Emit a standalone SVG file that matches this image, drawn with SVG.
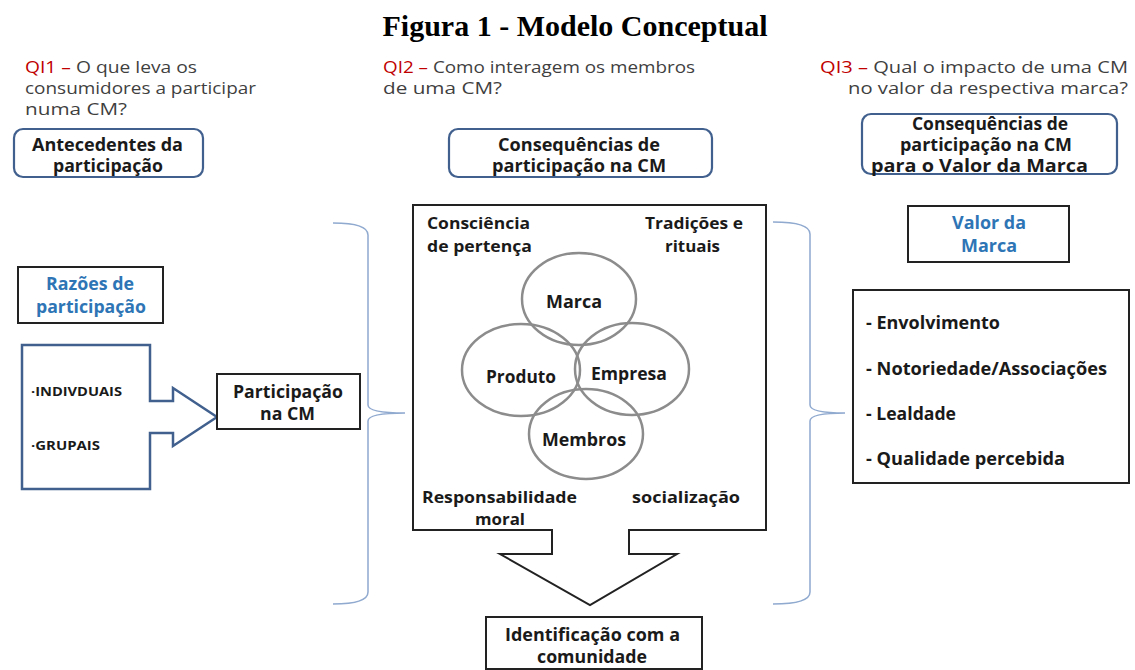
<svg xmlns="http://www.w3.org/2000/svg" width="1135" height="670" viewBox="0 0 1135 670">
<style>
text{lengthAdjust:spacingAndGlyphs;}
.q{font-family:"Open Sans","Liberation Sans",sans-serif;font-size:17px;fill:#3f3f3f;}
.qr{fill:#c00000;}
.b{font-family:"Open Sans","Liberation Sans",sans-serif;font-weight:bold;fill:#1a1a1a;}
.c{text-anchor:middle;}
.blue{fill:#2e75b6;}
.rbox{fill:#fff;stroke:#41608e;stroke-width:2.2;}
.box{fill:#fff;stroke:#222;stroke-width:2;}
.circ{fill:none;stroke:#8c8c8c;stroke-width:2.5;}
.brace{fill:none;stroke:#8fa9cf;stroke-width:1.5;}
</style>
<rect width="1135" height="670" fill="#fff"/>
<text x="575" y="36" text-anchor="middle" font-family="'Liberation Serif',serif" font-weight="bold" font-size="30" fill="#000" textLength="385" lengthAdjust="spacingAndGlyphs">Figura 1 - Modelo Conceptual</text>

<g id="qi1">
<text class="q" x="25" y="73" textLength="172" lengthAdjust="spacingAndGlyphs"><tspan class="qr">QI1 – </tspan>O que leva os</text>
<text class="q" x="25" y="94" textLength="231" lengthAdjust="spacingAndGlyphs">consumidores a participar</text>
<text class="q" x="25" y="115" textLength="102" lengthAdjust="spacingAndGlyphs">numa CM?</text>
</g>
<g id="qi2">
<text class="q" x="383" y="73" textLength="312" lengthAdjust="spacingAndGlyphs"><tspan class="qr">QI2 – </tspan>Como interagem os membros</text>
<text class="q" x="383" y="94" textLength="119" lengthAdjust="spacingAndGlyphs">de uma CM?</text>
</g>
<g id="qi3">
<text class="q" x="820" y="73" textLength="308" lengthAdjust="spacingAndGlyphs"><tspan class="qr">QI3 – </tspan>Qual o impacto de uma CM</text>
<text class="q" x="848" y="94" textLength="280" lengthAdjust="spacingAndGlyphs">no valor da respectiva marca?</text>
</g>

<g id="antecedentes">
<rect class="rbox" x="14" y="129" width="189" height="48" rx="9"/>
<text class="b" x="32" y="151" font-size="17" textLength="151" lengthAdjust="spacingAndGlyphs">Antecedentes da</text>
<text class="b" x="53" y="172" font-size="17" textLength="110" lengthAdjust="spacingAndGlyphs">participação</text>
</g>
<g id="consequencias">
<rect class="rbox" x="449" y="129" width="263" height="48" rx="9"/>
<text class="b" x="498" y="151" font-size="17" textLength="162" lengthAdjust="spacingAndGlyphs">Consequências de</text>
<text class="b" x="492" y="172" font-size="17" textLength="174" lengthAdjust="spacingAndGlyphs">participação na CM</text>
</g>
<g id="consequencias-valor">
<rect class="rbox" x="862" y="114" width="255" height="60" rx="9"/>
<text class="b" x="912" y="130" font-size="17" textLength="156" lengthAdjust="spacingAndGlyphs">Consequências de</text>
<text class="b" x="900" y="151" font-size="17" textLength="172" lengthAdjust="spacingAndGlyphs">participação na CM</text>
<text class="b" x="871" y="172" font-size="17" textLength="217" lengthAdjust="spacingAndGlyphs">para o Valor da Marca</text>
</g>

<g id="razoes">
<rect class="box" x="18" y="267" width="145" height="56"/>
<text class="b blue" x="46" y="290" font-size="17" textLength="88" lengthAdjust="spacingAndGlyphs">Razões de</text>
<text class="b blue" x="36" y="313" font-size="17" textLength="110" lengthAdjust="spacingAndGlyphs">participação</text>
</g>
<g id="razoes-arrow">
<path d="M22,345 L150,345 L150,401 L173,401 L173,388 L217,417 L173,446 L173,433 L150,433 L150,489 L22,489 Z" fill="#fff" stroke="#41608e" stroke-width="2.5" stroke-linejoin="miter"/>
<text class="b" x="31" y="396" font-size="12" textLength="91" lengthAdjust="spacingAndGlyphs">·INDIVDUAIS</text>
<text class="b" x="31" y="450" font-size="12" textLength="69" lengthAdjust="spacingAndGlyphs">·GRUPAIS</text>
</g>
<g id="participacao">
<rect class="box" x="217" y="374" width="143" height="55"/>
<text class="b" x="233" y="398" font-size="17" textLength="110" lengthAdjust="spacingAndGlyphs">Participação</text>
<text class="b" x="260" y="420" font-size="17" textLength="55" lengthAdjust="spacingAndGlyphs">na CM</text>
</g>

<g id="connectors">
<path class="brace" d="M333,223 Q368,223 368,235 L368,405 Q368,413 405,413 Q368,413 368,421 L368,592 Q368,604 333,604"/>
<path class="brace" d="M773,222 Q810,222 810,234 L810,405 Q810,413 845,413 Q810,413 810,421 L810,592 Q810,604 773,604"/>
</g>

<g id="centro">
<path d="M552,530 L413,530 L413,205 L766,205 L766,530 L629,530 L629,554 L677,554 L590,605 L500,554 L552,554 Z" fill="#fff" stroke="#222" stroke-width="2"/>
<text class="b" x="427" y="229" font-size="16" textLength="103" lengthAdjust="spacingAndGlyphs">Consciência</text>
<text class="b" x="427" y="252" font-size="16" textLength="105" lengthAdjust="spacingAndGlyphs">de pertença</text>
<text class="b" x="645" y="229" font-size="16" textLength="98" lengthAdjust="spacingAndGlyphs">Tradições e</text>
<text class="b" x="665" y="252" font-size="16" textLength="55" lengthAdjust="spacingAndGlyphs">rituais</text>
<text class="b" x="422" y="503" font-size="16" textLength="155" lengthAdjust="spacingAndGlyphs">Responsabilidade</text>
<text class="b" x="475" y="525" font-size="16" textLength="50" lengthAdjust="spacingAndGlyphs">moral</text>
<text class="b" x="632" y="503" font-size="16" textLength="108" lengthAdjust="spacingAndGlyphs">socialização</text>
</g>
<g id="circulos">
<ellipse class="circ" cx="579" cy="299" rx="57" ry="46"/>
<ellipse class="circ" cx="521" cy="370" rx="59" ry="46"/>
<ellipse class="circ" cx="632" cy="369" rx="57" ry="46"/>
<ellipse class="circ" cx="586" cy="434" rx="57" ry="45"/>
<text class="b" x="546" y="308" font-size="17" fill="#333" textLength="56" lengthAdjust="spacingAndGlyphs">Marca</text>
<text class="b" x="486" y="383" font-size="17" fill="#333" textLength="70" lengthAdjust="spacingAndGlyphs">Produto</text>
<text class="b" x="591" y="380" font-size="17" fill="#333" textLength="76" lengthAdjust="spacingAndGlyphs">Empresa</text>
<text class="b" x="542" y="446" font-size="17" fill="#333" textLength="84" lengthAdjust="spacingAndGlyphs">Membros</text>
</g>

<g id="identificacao">
<rect class="box" x="486" y="617" width="216" height="52"/>
<text class="b" x="505" y="641" font-size="17" textLength="175" lengthAdjust="spacingAndGlyphs">Identificação com a</text>
<text class="b" x="537" y="663" font-size="17" textLength="110" lengthAdjust="spacingAndGlyphs">comunidade</text>
</g>

<g id="valor-marca">
<rect class="box" x="908" y="206" width="161" height="56"/>
<text class="b blue" x="952" y="229" font-size="17" textLength="74" lengthAdjust="spacingAndGlyphs">Valor da</text>
<text class="b blue" x="961" y="252" font-size="17" textLength="56" lengthAdjust="spacingAndGlyphs">Marca</text>
</g>
<g id="dimensoes">
<rect class="box" x="853" y="290" width="276" height="193"/>
<text class="b" x="866" y="329" font-size="17" textLength="134" lengthAdjust="spacingAndGlyphs">- Envolvimento</text>
<text class="b" x="866" y="375" font-size="17" textLength="241" lengthAdjust="spacingAndGlyphs">- Notoriedade/Associações</text>
<text class="b" x="866" y="420" font-size="17" textLength="90" lengthAdjust="spacingAndGlyphs">- Lealdade</text>
<text class="b" x="866" y="465" font-size="17" textLength="199" lengthAdjust="spacingAndGlyphs">- Qualidade percebida</text>
</g>
</svg>
